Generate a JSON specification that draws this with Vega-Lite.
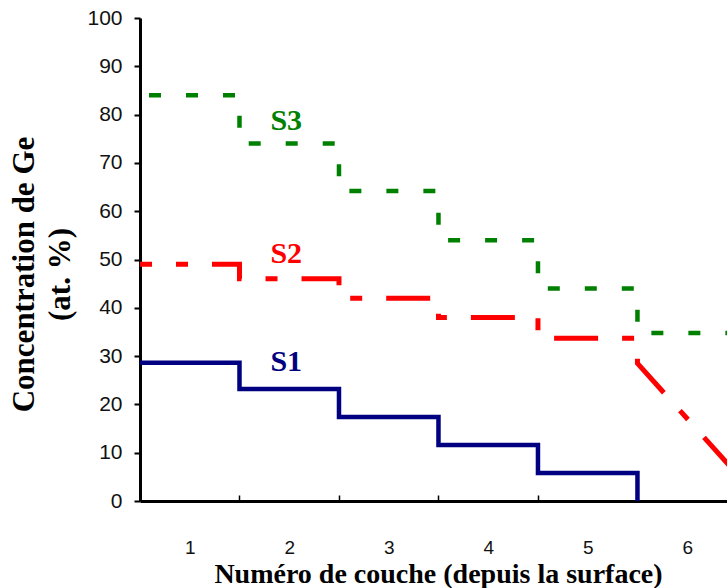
{
  "$schema": "https://vega.github.io/schema/vega-lite/v6.json",
  "width": 587,
  "height": 483,
  "autosize": {"type": "none"},
  "padding": {"left": 140, "top": 18, "right": 0, "bottom": 87},
  "background": "white",
  "config": {"view": {"stroke": null}},
  "datasets": {
    "lines": [
      {"series": "S1", "i": 1, "layer": 0.5, "value": 28.6},
      {"series": "S1", "i": 2, "layer": 1.5, "value": 28.6},
      {"series": "S1", "i": 3, "layer": 1.5, "value": 23.2},
      {"series": "S1", "i": 4, "layer": 2.5, "value": 23.2},
      {"series": "S1", "i": 5, "layer": 2.5, "value": 17.4},
      {"series": "S1", "i": 6, "layer": 3.5, "value": 17.4},
      {"series": "S1", "i": 7, "layer": 3.5, "value": 11.6},
      {"series": "S1", "i": 8, "layer": 4.5, "value": 11.6},
      {"series": "S1", "i": 9, "layer": 4.5, "value": 5.8},
      {"series": "S1", "i": 10, "layer": 5.5, "value": 5.8},
      {"series": "S1", "i": 11, "layer": 5.5, "value": 0},
      {"series": "S2", "i": 1, "layer": 0.5, "value": 49},
      {"series": "S2", "i": 2, "layer": 1.5, "value": 49},
      {"series": "S2", "i": 3, "layer": 1.5, "value": 46},
      {"series": "S2", "i": 4, "layer": 2.5, "value": 46},
      {"series": "S2", "i": 5, "layer": 2.5, "value": 42},
      {"series": "S2", "i": 6, "layer": 3.5, "value": 42},
      {"series": "S2", "i": 7, "layer": 3.5, "value": 38},
      {"series": "S2", "i": 8, "layer": 4.5, "value": 38},
      {"series": "S2", "i": 9, "layer": 4.5, "value": 33.7},
      {"series": "S2", "i": 10, "layer": 5.5, "value": 33.7},
      {"series": "S2", "i": 11, "layer": 5.5, "value": 28.5},
      {"series": "S2", "i": 12, "layer": 6.5, "value": 5.6},
      {"series": "S3", "i": 1, "layer": 0.5, "value": 84},
      {"series": "S3", "i": 2, "layer": 1.5, "value": 84},
      {"series": "S3", "i": 3, "layer": 1.5, "value": 74},
      {"series": "S3", "i": 4, "layer": 2.5, "value": 74},
      {"series": "S3", "i": 5, "layer": 2.5, "value": 64.2},
      {"series": "S3", "i": 6, "layer": 3.5, "value": 64.2},
      {"series": "S3", "i": 7, "layer": 3.5, "value": 54},
      {"series": "S3", "i": 8, "layer": 4.5, "value": 54},
      {"series": "S3", "i": 9, "layer": 4.5, "value": 44},
      {"series": "S3", "i": 10, "layer": 5.5, "value": 44},
      {"series": "S3", "i": 11, "layer": 5.5, "value": 34.8},
      {"series": "S3", "i": 12, "layer": 6.5, "value": 34.8}
    ],
    "labels": [
      {"series": "S1", "layer": 1.97, "value": 26.9},
      {"series": "S2", "layer": 1.97, "value": 49.3},
      {"series": "S3", "layer": 1.97, "value": 76.8}
    ]
  },
  "resolve": {"axis": {"x": "independent"}},
  "layer": [
    {
      "mark": {"type": "rule", "strokeWidth": 3, "color": "black"},
      "encoding": {
        "y": {"datum": 100, "type": "quantitative", "scale": {"domain": [0, 100]}}
      }
    },
    {
      "data": {"name": "lines"},
      "transform": [{"filter": "datum.series === 'S1'"}],
      "mark": {"type": "line", "color": "#000080", "strokeWidth": 4.5, "strokeJoin": "miter", "strokeCap": "butt", "clip": true},
      "encoding": {
        "x": {
          "field": "layer", "type": "quantitative",
          "scale": {"domain": [0.5, 6.4], "nice": false, "zero": false},
          "axis": {
            "orient": "bottom",
            "values": [1, 2, 3, 4, 5, 6],
            "title": "Numéro de couche (depuis la surface)",
            "titleFont": "Liberation Serif", "titleFontSize": 28, "titleFontWeight": "bold", "titleColor": "black",
            "titleBaseline": "alphabetic", "titleY": 81, "titleX": 298, "titleAnchor": "middle",
            "labelFont": "Liberation Sans", "labelFontSize": 19, "labelColor": "#111",
            "labelPadding": 37, "ticks": false, "tickSize": 0,
            "domain": true, "domainColor": "black", "domainWidth": 3,
            "grid": false, "labelFlush": false
          }
        },
        "y": {
          "field": "value", "type": "quantitative",
          "scale": {"domain": [0, 100], "nice": false},
          "axis": {
            "values": [0, 10, 20, 30, 40, 50, 60, 70, 80, 90, 100],
            "title": ["Concentration de Ge", "(at. %)"],
            "titleFont": "Liberation Serif", "titleFontSize": 31, "titleFontWeight": "bold", "titleColor": "black",
            "titleAngle": -90, "titleAlign": "center", "titleBaseline": "alphabetic",
            "titleX": -107, "titleY": 256, "titleLineHeight": 36,
            "labelFont": "Liberation Sans", "labelFontSize": 21, "labelColor": "#111",
            "labelPadding": 12, "tickSize": 6, "tickWidth": 2, "tickColor": "black",
            "domain": true, "domainColor": "black", "domainWidth": 3,
            "grid": false, "labelFlush": false
          }
        },
        "order": {"field": "i", "type": "quantitative"}
      }
    },
    {
      "data": {"name": "lines"},
      "transform": [{"filter": "datum.series === 'S2'"}],
      "mark": {"type": "line", "color": "#FF0000", "strokeWidth": 5, "strokeJoin": "miter", "strokeCap": "butt", "strokeDash": [44, 24, 12, 24], "strokeDashOffset": 32, "clip": true},
      "encoding": {
        "x": {
          "field": "layer", "type": "quantitative",
          "axis": {
            "orient": "bottom",
            "values": [1.5, 2.5, 3.5, 4.5, 5.5],
            "labels": false, "title": null, "domain": false, "grid": false,
            "ticks": true, "tickSize": -6, "tickWidth": 1.5, "tickColor": "black"
          }
        },
        "y": {"field": "value", "type": "quantitative"},
        "order": {"field": "i", "type": "quantitative"}
      }
    },
    {
      "data": {"name": "lines"},
      "transform": [{"filter": "datum.series === 'S3'"}],
      "mark": {"type": "line", "color": "#008000", "strokeWidth": 4.5, "strokeJoin": "miter", "strokeCap": "butt", "strokeDash": [12, 25], "strokeDashOffset": 28, "clip": true},
      "encoding": {
        "x": {"field": "layer", "type": "quantitative", "axis": null},
        "y": {"field": "value", "type": "quantitative"},
        "order": {"field": "i", "type": "quantitative"}
      }
    },
    {
      "data": {"name": "labels"},
      "mark": {"type": "text", "font": "Liberation Serif", "fontSize": 30, "fontWeight": "bold", "align": "center", "baseline": "alphabetic"},
      "encoding": {
        "x": {"field": "layer", "type": "quantitative", "axis": null},
        "y": {"field": "value", "type": "quantitative"},
        "text": {"field": "series"},
        "color": {
          "field": "series", "type": "nominal",
          "scale": {"domain": ["S1", "S2", "S3"], "range": ["#000080", "#FF0000", "#008000"]},
          "legend": null
        }
      }
    }
  ]
}
